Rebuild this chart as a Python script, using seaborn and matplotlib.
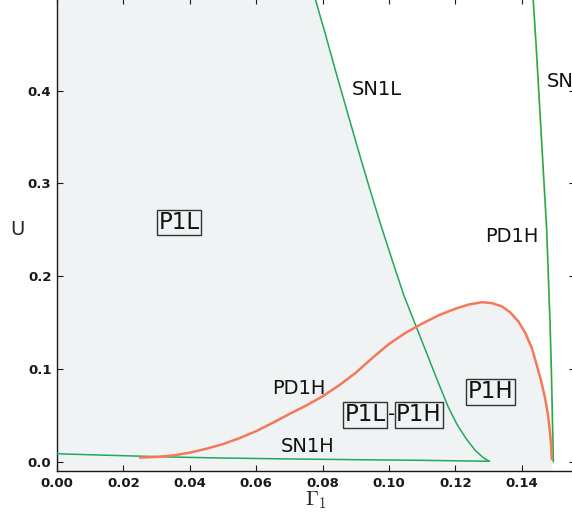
import matplotlib
matplotlib.use("Agg")
import matplotlib.pyplot as plt
import seaborn as sns
import numpy as np
import pandas as pd

# ---- data ----
sn1l_x = [0.0777, 0.0809, 0.0840, 0.0872, 0.0904, 0.0937, 0.0971, 0.1007, 0.1044,
          0.1077, 0.1110, 0.1143, 0.1177, 0.1205, 0.1232, 0.1260, 0.1285, 0.1302]
sn1l_y = [0.500, 0.460, 0.420, 0.380, 0.340, 0.300, 0.260, 0.220, 0.180,
          0.150, 0.120, 0.090, 0.060, 0.040, 0.025, 0.012, 0.004, 0.0005]

sn1h_x = [0.0, 0.01, 0.02, 0.035, 0.05, 0.07, 0.09, 0.11, 0.1302]
sn1h_y = [0.0086, 0.0075, 0.0065, 0.0050, 0.0040, 0.0030, 0.0022, 0.0015, 0.0005]

pd1h_x = [0.025, 0.030, 0.035, 0.040, 0.045, 0.050, 0.055, 0.060, 0.065, 0.070,
          0.075, 0.080, 0.085, 0.090, 0.095, 0.100, 0.105, 0.110, 0.115, 0.120,
          0.124, 0.128, 0.131, 0.134, 0.1365, 0.139, 0.141, 0.143, 0.1445, 0.1458,
          0.1469, 0.1478, 0.1484, 0.1488, 0.1490]
pd1h_y = [0.0045, 0.0052, 0.0068, 0.0098, 0.0140, 0.0190, 0.0255, 0.0330, 0.0420, 0.0515,
          0.0605, 0.0705, 0.0825, 0.0960, 0.1120, 0.1270, 0.1390, 0.1490, 0.1580, 0.1650,
          0.1695, 0.1720, 0.1710, 0.1675, 0.1610, 0.1510, 0.1390, 0.1225, 0.1040, 0.0870,
          0.0700, 0.0520, 0.0345, 0.0180, 0.0030]

sn1h_right_x = [0.1434, 0.1443, 0.1451, 0.1459, 0.1467, 0.1475, 0.1480, 0.1485,
                0.1489, 0.1492, 0.1495]
sn1h_right_y = [0.50, 0.45, 0.40, 0.35, 0.30, 0.25, 0.20, 0.15, 0.10, 0.05, 0.00]

pd1h_right_x = [0.14325, 0.14415, 0.14495, 0.14575, 0.14655, 0.14735, 0.14785,
                0.14835, 0.14875, 0.14905, 0.14935]
pd1h_right_y = [0.50, 0.45, 0.40, 0.35, 0.30, 0.25, 0.20, 0.15, 0.10, 0.05, 0.00]

plain_labels = ["SN1L", "PD1H", "PD1H", "SN1H", "SN1H"]
plain_x = [0.0963, 0.1370, 0.0727, 0.0756, 0.1557]
plain_y = [0.401, 0.243, 0.0787, 0.0165, 0.410]

box_labels = ["P1L", "P1L", "P1H", "P1H"]
box_x = [0.0368, 0.0928, 0.1090, 0.1305]
box_y = [0.258, 0.0507, 0.0507, 0.0755]

xticks = [0.00, 0.02, 0.04, 0.06, 0.08, 0.10, 0.12, 0.14]
yticks = [0.0, 0.1, 0.2, 0.3, 0.4]

# ---- style ----
sns.set_style("ticks", {"xtick.direction": "in", "ytick.direction": "in",
                        "axes.edgecolor": "#1a1a1a"})
plt.rcParams["font.family"] = ["DejaVu Sans"]
plt.rcParams["mathtext.fontset"] = "cm"

FILL = "#eff3f3"
GREEN = "#22a85a"
RED = "#f4785a"
YELLOW = "#e6d35a"
YMIN, YMAX = -0.01, 0.5
XMIN, XMAX = 0.0, 0.156

fig = plt.figure(figsize=(5.72, 5.13), dpi=100)
ax = fig.add_axes([57 / 572, 42 / 513, 518 / 572, 473 / 513])
ax.set_facecolor("white")

# shaded stable regions
ax.fill_betweenx(sn1l_y, 0, sn1l_x, color=FILL, lw=0, zorder=0)
ax.fill_between(sn1h_x, YMIN, np.array(sn1h_y) + 0.002, color=FILL, lw=0, zorder=0)
ax.fill_between(pd1h_x, YMIN, pd1h_y, color=FILL, lw=0, zorder=0)

# curves
def curve(x, y, color, lw, z):
    df = pd.DataFrame({"x": x, "y": y})
    sns.lineplot(data=df, x="x", y="y", sort=False, estimator=None,
                 color=color, lw=lw, ax=ax, zorder=z)

curve(pd1h_right_x, pd1h_right_y, YELLOW, 0.9, 2)
curve(sn1h_right_x, sn1h_right_y, GREEN, 1.1, 3)
curve(sn1h_x, sn1h_y, GREEN, 1.1, 3)
curve(sn1l_x, sn1l_y, GREEN, 1.1, 3)
curve(pd1h_x, pd1h_y, RED, 1.8, 4)

for t, x, y in zip(plain_labels, plain_x, plain_y):
    ax.text(x, y, t, fontsize=14, ha="center", va="center", color="#111111", zorder=5)

for t, x, y in zip(box_labels, box_x, box_y):
    ax.text(x, y, t, fontsize=16.5, ha="center", va="center", color="#111111", zorder=6,
            bbox=dict(boxstyle="square,pad=0.06", fc=FILL, ec="#333333", lw=1.0))
ax.text((box_x[1] + box_x[2]) / 2, box_y[1], "-", fontsize=14,
        ha="center", va="center", color="#111111", zorder=7)

ax.set_xlim(XMIN, XMAX)
ax.set_ylim(YMIN, YMAX)
ax.set_xticks(xticks)
ax.set_yticks(yticks)
ax.set_xticklabels([f"{v:.2f}" for v in xticks], fontsize=9.5, fontweight="bold")
ax.set_yticklabels([f"{v:.1f}" for v in yticks], fontsize=9.5, fontweight="bold")
ax.tick_params(axis="both", which="major", direction="in", length=4, width=0.8,
               top=True, right=True, pad=4, colors="#1a1a1a")
for s in ax.spines.values():
    s.set_linewidth(1.0)

ax.set_xlabel(r"$\Gamma_1$", fontsize=15, labelpad=0)
ax.set_ylabel("U", fontsize=14, rotation=0, va="center", ha="center")
ax.yaxis.set_label_coords(-0.076, 0.51)

fig.savefig("out.png", dpi=100)
